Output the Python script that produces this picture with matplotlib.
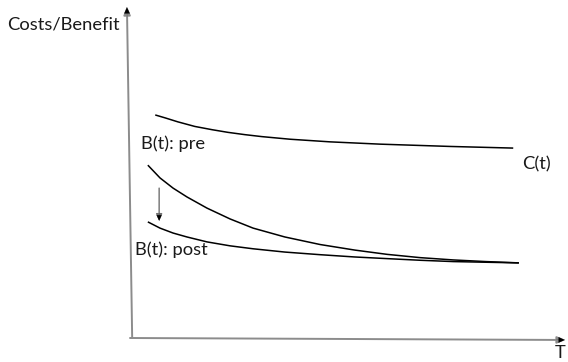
import matplotlib
matplotlib.use('Agg')
import matplotlib.pyplot as plt

plt.rcParams['font.family'] = ['Lato', 'DejaVu Sans']

# values (t, level)
c_t = [0.58, 0.81, 1.10, 1.49, 1.89, 2.25, 2.64, 3.03, 3.68, 4.60, 5.75, 7.36, 8.81]
c_v = [6.80, 6.71, 6.59, 6.45, 6.35, 6.27, 6.20, 6.14, 6.06, 5.98, 5.91, 5.84, 5.79]

pre_t = [0.41, 0.69, 0.99, 1.31, 1.77, 2.30, 2.83, 3.56, 4.37, 5.17, 5.91, 6.67, 7.43, 8.18, 8.94]
pre_v = [5.27, 4.88, 4.57, 4.30, 3.96, 3.63, 3.35, 3.08, 2.85, 2.68, 2.55, 2.45, 2.38, 2.33, 2.29]

post_t = [0.41, 0.69, 0.99, 1.31, 1.77, 2.30, 2.83, 3.56, 4.37, 5.17, 5.91, 6.67, 7.43, 8.18, 8.94]
post_v = [3.54, 3.35, 3.20, 3.08, 2.93, 2.81, 2.72, 2.62, 2.54, 2.47, 2.42, 2.37, 2.33, 2.31, 2.29]

fig = plt.figure(figsize=(5.68, 3.62), dpi=100)
ax = fig.add_axes([0, 0, 1, 1])
ax.set_xlim(-130 / 43.5, 438 / 43.5)
ax.set_ylim(-24 / 32.8, 338 / 32.8)
ax.axis('off')

for tt, vv in [(c_t, c_v), (pre_t, pre_v), (post_t, post_v)]:
    ax.plot(tt, vv, color='black', lw=1.1, solid_capstyle='butt', solid_joinstyle='round')

# axes with arrow heads
axis_col = '#8c8c8c'
head = '-|>,head_length=0.45,head_width=0.2'
ax.annotate('', xy=(-0.07, 10.09), xytext=(0.05, 0.0),
            arrowprops=dict(arrowstyle=head, color=axis_col, lw=1.4, shrinkA=0, shrinkB=0))
ax.annotate('', xy=(10.0, -0.06), xytext=(0.0, 0.0),
            arrowprops=dict(arrowstyle=head, color=axis_col, lw=1.4, shrinkA=0, shrinkB=0))
# black heads on top
ax.annotate('', xy=(-0.07, 10.09), xytext=(-0.068, 9.8),
            arrowprops=dict(arrowstyle=head, color='black', lw=0.1, shrinkA=0, shrinkB=0))
ax.annotate('', xy=(10.0, -0.06), xytext=(9.8, -0.058),
            arrowprops=dict(arrowstyle=head, color='black', lw=0.1, shrinkA=0, shrinkB=0))

# downward shift arrow
small = '-|>,head_length=0.4,head_width=0.18'
ax.annotate('', xy=(0.67, 3.57), xytext=(0.67, 4.57),
            arrowprops=dict(arrowstyle=small, color='#707070', lw=1.0, shrinkA=0, shrinkB=0))
ax.annotate('', xy=(0.67, 3.57), xytext=(0.67, 3.8),
            arrowprops=dict(arrowstyle=small, color='black', lw=0.1, shrinkA=0, shrinkB=0))

fs = 13.2
tc = '#1a1a1a'
ax.text(-0.23, 9.42, 'Costs/Benefit', ha='right', va='baseline', fontsize=fs, color=tc)
ax.text(0.25, 5.76, 'B(t): pre', ha='left', va='baseline', fontsize=fs, color=tc)
ax.text(0.11, 2.52, 'B(t): post', ha='left', va='baseline', fontsize=fs, color=tc)
ax.text(9.01, 5.15, 'C(t)', ha='left', va='baseline', fontsize=fs, color=tc)
ax.text(9.76, -0.62, 'T', ha='left', va='baseline', fontsize=fs, color=tc)

fig.savefig('out.png', dpi=100, facecolor='white')
